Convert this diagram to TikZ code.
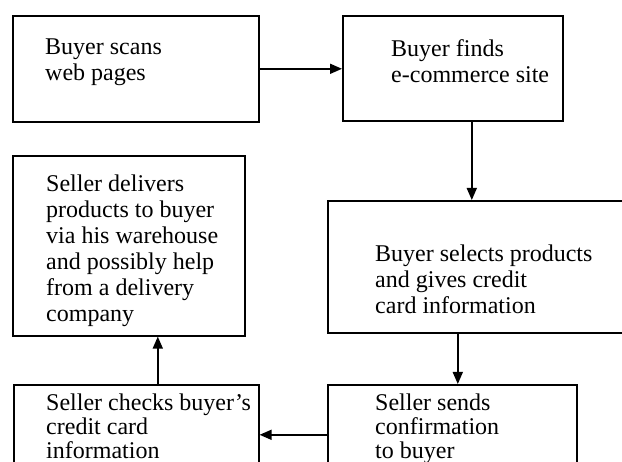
\documentclass[tikz,border=0pt]{standalone}
\usepackage{fontspec}
\setmainfont{Liberation Serif}
\usetikzlibrary{arrows.meta}
\begin{document}
\begin{tikzpicture}[x=1pt,y=-1pt,
  stepbox/.style={draw,line width=1.6pt,inner sep=0pt,anchor=north west},
  boxtext/.style={anchor=north west,inner sep=0pt,align=left,
    font=\fontsize{24}{26}\selectfont},
  tighttext/.style={boxtext,font=\fontsize{24}{24}\selectfont},
  flow/.style={line width=1.6pt,-{Triangle[length=12pt,width=10pt]}}]
\useasboundingbox (0,0) rectangle (622,462);
\clip (0,0) rectangle (622,462);

% boxes
\node[stepbox,minimum width=246pt,minimum height=106pt] (scan)    at (12,15)  {};
\node[stepbox,minimum width=220pt,minimum height=105pt] (find)    at (342,15) {};
\node[stepbox,minimum width=232pt,minimum height=180pt] (deliver) at (12,155) {};
\node[stepbox,minimum width=310pt,minimum height=132pt] (select)  at (327,200) {};
\node[stepbox,minimum width=245pt,minimum height=100pt] (check)   at (13,384) {};
\node[stepbox,minimum width=249pt,minimum height=100pt] (confirm) at (327,384) {};

% texts
\node[boxtext] (tscan)    at (45,39)   {Buyer scans\\web pages};
\node[boxtext] (tfind)    at (391,39)  {Buyer finds\\e-commerce site};
\node[boxtext] (tdeliver) at (46,175)  {Seller delivers\\products to buyer\\via his warehouse\\and possibly help\\from a delivery\\company};
\node[boxtext] (tselect)  at (375,245) {Buyer selects products\\and gives credit\\card information};
\node[tighttext] (tcheck)   at (46,394)  {Seller checks buyer’s\\credit card\\information};
\node[tighttext] (tconfirm) at (375,394) {Seller sends\\confirmation\\to buyer};

% connectors
\draw[flow] (scan.east) -- (scan.east -| find.west);
\draw[flow] ([xshift=19pt]find.south) -- ([xshift=19pt]find.south |- select.north);
\draw[flow] ([xshift=-25pt]select.south) -- ([xshift=-25pt]select.south |- confirm.north);
\draw[flow] (confirm.west) -- (confirm.west -| check.east);
\draw[flow] ([xshift=21.5pt]check.north) -- ([xshift=21.5pt]check.north |- deliver.south);
\end{tikzpicture}
\end{document}
